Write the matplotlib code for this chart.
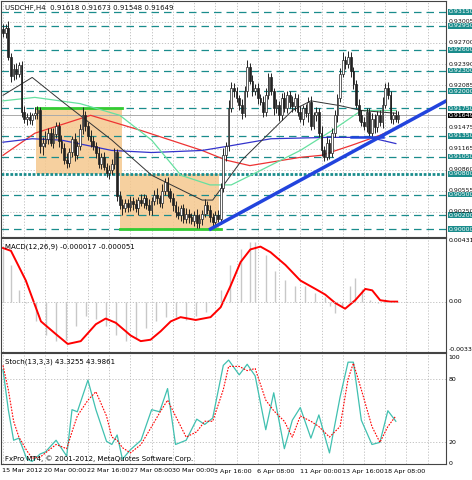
import numpy as np
import matplotlib
matplotlib.use("Agg")
import matplotlib.pyplot as plt
from matplotlib.patches import Rectangle

# ---------------- data ----------------
close_pips = [285,292,250,222,232,225,238,170,160,163,158,165,168,172,120,125,130,140,125,138,
              150,128,118,100,96,112,130,108,120,145,165,150,135,128,120,110,95,105,90,82,
              85,95,112,48,35,30,38,32,40,36,30,42,38,45,35,28,40,50,45,38,
              55,68,55,45,35,25,20,30,15,22,18,12,20,8,15,22,35,28,18,10,
              20,15,60,108,120,175,205,200,190,180,168,200,235,215,200,205,190,185,170,195,
              220,200,175,180,165,190,175,195,185,178,190,170,160,175,168,185,150,165,170,140,
              115,105,125,110,140,165,190,225,245,240,250,230,210,180,165,155,150,170,140,160,
              148,165,155,180,205,195,160,165,160,165]
wick_up = [8,6,10,5,7,9,4,6,8,5,7,4,9,6,5,8,12,6,7,9,5,6,8,7,10,6,5,9,7,8,
           12,6,5,8,7,6,9,5,7,6,8,6,5,4,7,9,6,5,8,6,7,5,9,6,5,8,6,7,9,5,
           10,6,8,5,7,6,9,5,6,8,7,5,6,9,7,5,8,6,7,5,6,8,7,9,6,12,8,7,6,5,
           8,7,10,6,9,5,7,6,8,9,6,7,5,8,6,7,9,5,6,8,7,6,9,5,7,6,8,5,7,6,
           9,6,8,5,7,8,6,9,12,6,8,7,5,6,9,7,8,5,6,9,7,6,8,12,7,8,6,5,7,6]
wick_dn = [6,8,5,9,6,7,5,8,6,9,5,7,6,8,9,12,6,7,5,8,6,9,7,5,8,6,7,9,6,5,
           7,8,6,9,5,7,6,8,5,7,9,6,8,7,6,9,5,7,6,8,6,9,5,7,6,8,7,5,9,6,
           7,5,8,6,9,7,5,8,6,7,9,5,8,6,7,9,5,6,8,6,7,5,8,6,9,7,5,8,6,7,
           9,6,8,5,7,6,9,5,8,6,7,5,9,6,8,7,5,6,9,8,7,6,5,9,6,12,7,5,8,6,
           9,7,5,8,6,7,9,6,5,8,6,9,7,5,8,6,7,9,5,6,8,7,6,9,5,7,6,8,5,6]

ma_black_x = [0,11,22,41,56,75,79,90,109,116,127,135,148]
ma_black = [194,220,186,129,78,42,42,100,172,186,179,172,168]
ma_green_x = [0,12,29,44,56,67,78,86,97,112,124,135,148]
ma_green = [186,191,182,165,129,78,64,64,85,114,143,172,172]
ma_red_x = [0,12,33,52,75,84,93,112,120,131,142,148]
ma_red = [107,139,165,143,114,100,92,104,107,121,136,146]
ma_blue_x = [0,11,22,41,56,75,86,101,123,138,148]
ma_blue = [126,131,129,114,111,114,121,131,133,133,124]

macd_x = [0,3,8.6,14.3,19.9,24.4,29.3,35,38.7,42.5,48.1,51.9,55.6,59.4,63.2,66.9,72.6,78.2,
          82,85.7,89.5,93.2,97,100.8,106.4,112,117.7,121.4,125.2,128.9,132.7,136.5,139.1,142.1,145.9,148.5]
macd_sig = [0.0038,0.0036,0.0015,-0.0014,-0.0023,-0.0030,-0.0028,-0.0016,-0.0012,-0.0015,-0.0024,
            -0.0028,-0.0027,-0.0021,-0.0014,-0.0011,-0.0013,-0.0011,-0.0004,0.0011,0.0028,0.0037,
            0.0039,0.0035,0.0026,0.0015,0.0009,0.0005,-0.0001,-0.0005,0.0001,0.0009,0.0008,0.0001,0.0,0.0]
hist_x = [0,3,6,8.6,12.4,16.2,19.9,23.7,27.4,31.2,35,38.7,42.5,46.2,50,53.8,57.5,61.3,65,68.8,
          72.6,76.3,80.1,82,85.7,89.5,93.2,95.1,98.9,102.6,106.4,110.2,113.9,117.7,121.4,123.3,
          125.2,127.8,130.8,132.7,135.3,138.3,141.4,144,146.6,148.5]
hist_v = [0.0037,0.0026,0.0008,-0.0001,-0.0014,-0.0024,-0.0028,-0.0027,-0.0017,-0.0010,-0.0012,
          -0.0017,-0.0024,-0.0028,-0.0026,-0.0019,-0.0014,-0.0011,-0.0011,-0.0013,-0.0010,-0.0007,
          -0.0001,0.0008,0.0026,0.0037,0.0042,0.0042,0.0033,0.0022,0.0015,0.0011,0.0011,0.0006,
          0.0003,-0.0003,-0.0008,-0.0003,0.0011,0.0017,0.0009,0.0001,-0.0001,-0.0001,0.0,0.0]

st_x = [0,2,4,6,9,11,14,16,20,24,26,28,32,35,39,41,43,45,48,52,56,59,62,65,69,73,76,79,
        83,85,89,92,95,99,102,106,109,112,116,119,123,127,130,132,135,139,142,145,148]
st_k = [89,51,22,24,4,2,9,11,22,7,51,49,79,51,21,18,27,4,13,22,51,49,71,18,22,42,37,43,
        93,98,84,94,83,32,67,14,41,53,24,46,10,63,96,96,41,18,20,50,40]
st_d = [93,70,40,25,12,5,6,10,18,14,30,45,60,68,45,25,22,15,10,18,35,48,60,45,25,30,40,40,
        70,92,92,88,90,60,50,40,25,45,40,35,25,35,80,95,70,35,20,35,45]

date_labels = ["15 Mar 2012","20 Mar 00:00","22 Mar 16:00","27 Mar 08:00","30 Mar 00:00",
               "3 Apr 16:00","6 Apr 08:00","11 Apr 00:00","13 Apr 16:00","18 Apr 08:00"]
level_lines = [0.9315,0.9295,0.9260,0.9230,0.9200,0.9175,0.9135,0.9105,0.9050,0.9020,0.9000]
grid_labels = ["0.93005","0.92700","0.92390","0.92085","0.91475","0.91165","0.90860","0.90555","0.90250"]
grid_prices = [0.93005,0.92700,0.92390,0.92085,0.91475,0.91165,0.90860,0.90555,0.90250]
key_level = 0.9080
last_price = 0.91649

# ---------------- figure ----------------
W, H = 472, 480
fig = plt.figure(figsize=(W/100, H/100), dpi=100)
fig.patch.set_facecolor("white")
def ax_px(x0, y0, x1, y1):
    return fig.add_axes([x0/W, 1-y1/H, (x1-x0)/W, (y1-y0)/H])
ax = ax_px(1, 1, 446, 237)
am = ax_px(1, 238, 446, 352)
asx = ax_px(1, 353, 446, 464)
XL = (-0.75, 166.9)
teal = "#1a8c8c"
fs = 5.0
rfs = 4.5
for a in (ax, am, asx):
    a.set_xlim(*XL)
    a.set_xticks([]); a.set_yticks([])
    for s in a.spines.values():
        s.set_color("#444"); s.set_linewidth(0.8)
    for i in range(0, 167, 8):
        a.axvline(i, color="#bbb", lw=0.6, ls=(0, (1.5, 2)), zorder=0)

P = lambda v: 0.90 + np.asarray(v)/10000.0
c = P(close_pips)
o = np.concatenate([[P(290)], c[:-1]])
hi = np.maximum(o, c) + np.asarray(wick_up)/10000.0
lo = np.minimum(o, c) - np.asarray(wick_dn)/10000.0
idx = np.arange(len(c))
ax.set_ylim(0.89884, 0.93309)

for g in grid_prices:
    ax.axhline(g, color="#bbb", lw=0.6, ls=(0, (1.5, 2)), zorder=0)
ax.add_patch(Rectangle((12.4, P(80)), 32.3, P(176)-P(80), color="#f5c88e", alpha=0.85, lw=0, zorder=1))
ax.add_patch(Rectangle((44, P(0)), 37.5, P(80)-P(0), color="#f5c88e", alpha=0.85, lw=0, zorder=1))
for lv in level_lines:
    ax.axhline(lv, color=teal, lw=0.9, ls=(0, (6, 4)), zorder=2)
ax.axhline(key_level, color=teal, lw=2.0, ls=(0, (1, 0.6)), zorder=2)
ax.axhline(last_price, color="#aaa", lw=0.7, zorder=2)
ax.plot([12.4, 44.7], [P(176)]*2, color="#33cc33", lw=2, zorder=3)
ax.plot([44, 82], [P(0)]*2, color="#33cc33", lw=2, zorder=3)

ax.plot(ma_red_x, P(ma_red), color="#ee3333", lw=0.9, zorder=3)
ax.plot(ma_blue_x, P(ma_blue), color="#3333cc", lw=0.9, zorder=3)
ax.plot(ma_green_x, P(ma_green), color="#66e0a0", lw=0.9, zorder=3)
ax.plot(ma_black_x, P(ma_black), color="#333", lw=0.7, zorder=3)

ax.vlines(idx, lo, hi, color="#222", lw=0.7, zorder=4)
up = c >= o
ax.bar(idx[up], (c-o)[up], bottom=o[up], width=0.65, color="white", edgecolor="#222", lw=0.5, zorder=5)
ax.bar(idx[~up], (o-c)[~up], bottom=c[~up], width=0.65, color="#222", edgecolor="#222", lw=0.5, zorder=5)

ax.plot([78.2, 167], [P(0), P(186)], color="#2244dd", lw=2.5, zorder=6, clip_on=True)
ax.plot([131, 143], [P(133)]*2, color="#2244dd", lw=1.8, zorder=6)

ax.text(0.01, 0.985, "USDCHF,H4  0.91618 0.91673 0.91548 0.91649", transform=ax.transAxes,
        fontsize=fs, va="top", ha="left", color="#111")

ytr = ax.get_yaxis_transform()
for lv in level_lines + [key_level]:
    ax.text(1.006, lv, f"{lv:.5f}", transform=ytr, fontsize=rfs, va="center",
            ha="left", color="white", bbox=dict(boxstyle="square,pad=0.05", fc=teal, ec="none"), clip_on=False)
for g, s in zip(grid_prices, grid_labels):
    ax.text(1.006, g, s, transform=ytr, fontsize=rfs, va="center", ha="left",
            color="#111", clip_on=False)
ax.text(1.006, last_price, f"{last_price:.5f}", transform=ytr, fontsize=rfs,
        va="center", ha="left", color="white", bbox=dict(boxstyle="square,pad=0.05", fc="black", ec="none"),
        clip_on=False)

am.set_ylim(-0.00357, 0.00451)
am.vlines(hist_x, 0, hist_v, color="#c8c8c8", lw=1.0)
am.plot(macd_x, macd_sig, color="red", lw=1.4)
am.axhline(0, color="#bbb", lw=0.6, ls=(0, (1.5, 2)))
am.text(0.01, 0.95, "MACD(12,26,9) -0.000017 -0.000051", transform=am.transAxes, fontsize=fs, va="top")
for v, s in [(0.00431, "0.00431"), (0.0, "0.00"), (-0.00337, "-0.00337")]:
    am.text(1.006, v, s, transform=am.get_yaxis_transform(), fontsize=rfs, va="center", clip_on=False)

asx.set_ylim(-0.5, 104.7)
for v in (20, 80):
    asx.axhline(v, color="#bbb", lw=0.6, ls=(0, (1.5, 2)))
asx.plot(st_x, st_k, color="#40c0b0", lw=0.9)
asx.plot(st_x, st_d, color="red", lw=0.8, ls=(0, (1.5, 1.2)))
asx.text(0.01, 0.95, "Stoch(13,3,3) 43.3255 43.9861", transform=asx.transAxes, fontsize=fs, va="top")
asx.text(0.01, 0.02, "FxPro MT4, © 2001-2012, MetaQuotes Software Corp.", transform=asx.transAxes,
         fontsize=fs, va="bottom")
for v in (100, 80, 20, 0):
    asx.text(1.006, v, str(v), transform=asx.get_yaxis_transform(), fontsize=rfs, va="center", clip_on=False)

for k, s in enumerate(date_labels):
    fig.text((2 + k*42.5)/W, 1-471/H, s, fontsize=4.6, va="center", ha="left")

fig.savefig("out.png", dpi=100, facecolor="white")
